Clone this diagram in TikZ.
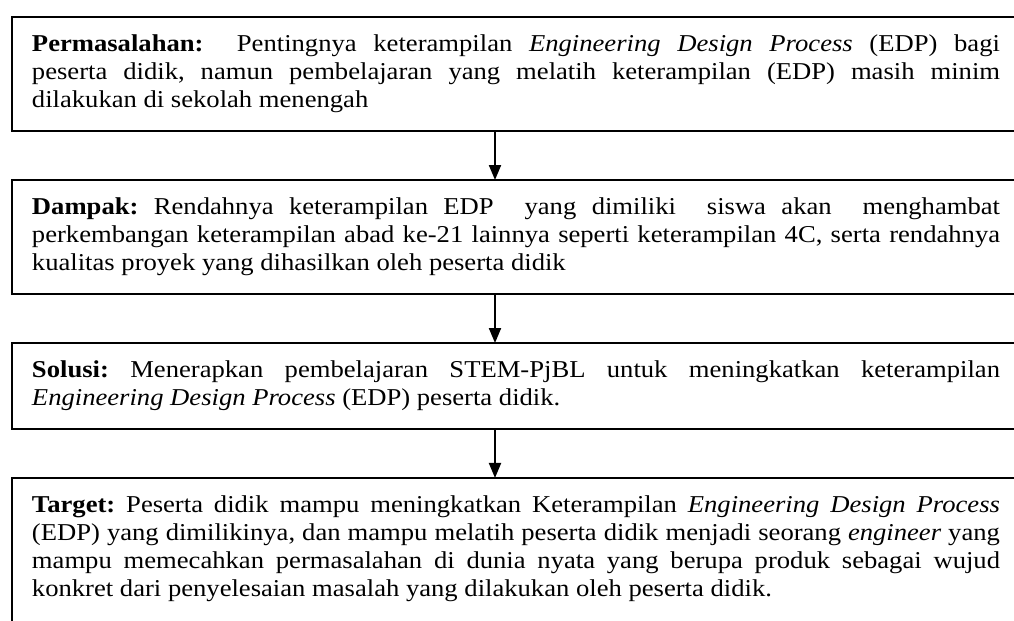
\documentclass[tikz,border=0pt]{standalone}
\usepackage{fontspec}
\setmainfont[FakeStretch=1.1]{Liberation Serif}
\usetikzlibrary{positioning,
	arrows.meta}
\hyphenpenalty=10000
\exhyphenpenalty=10000
\frenchspacing

\tikzset{
	kotak/.style={draw, line width=1pt, text width=484pt, align=justify, inner xsep=10pt, inner ysep=9pt, outer sep=0pt, font=\fontsize{12.1}{14}\selectfont},
	panah/.style={line width=1pt, ->},
}

\begin{document}
\begin{tikzpicture}[x=0.5pt, y=-0.5pt, node distance=24.5pt, >={Triangle[width=6pt,length=7.5pt]}]
	\path[use as bounding box, clip] (0,0) rectangle (1014,621);
	\node[kotak, anchor=south west] (masalah) at (12,131) {\textbf{Permasalahan:}\ \ Pentingnya keterampilan \textit{Engineering Design Process} (EDP) bagi\linebreak peserta didik, namun pembelajaran yang melatih keterampilan (EDP) masih minim\linebreak dilakukan di sekolah menengah};
	\node[kotak, below=of masalah] (dampak) {\textbf{Dampak:} Rendahnya keterampilan EDP\ \ yang dimiliki\ \ siswa akan\ \ menghambat\linebreak perkembangan keterampilan abad ke-21 lainnya seperti keterampilan 4C, serta rendahnya\linebreak kualitas proyek yang dihasilkan oleh peserta didik};
	\node[kotak, below=of dampak] (solusi) {\textbf{Solusi:} Menerapkan pembelajaran STEM-PjBL untuk meningkatkan keterampilan\linebreak \textit{Engineering Design Process} (EDP) peserta didik.};
	\node[kotak, below=of solusi, text depth=60pt] (target) {\textbf{Target:} Peserta didik mampu meningkatkan Keterampilan \textit{Engineering Design Process}\linebreak (EDP) yang dimilikinya, dan mampu melatih peserta didik menjadi seorang \textit{engineer} yang\linebreak mampu memecahkan permasalahan di dunia nyata yang berupa produk sebagai wujud\linebreak konkret dari penyelesaian masalah yang dilakukan oleh peserta didik.};
	\coordinate (tengah) at (495,0);
	\draw[panah] (masalah.south -| tengah) -- (dampak.north -| tengah);
	\draw[panah] (dampak.south -| tengah) -- (solusi.north -| tengah);
	\draw[panah] (solusi.south -| tengah) -- (target.north -| tengah);
\end{tikzpicture}
\end{document}
